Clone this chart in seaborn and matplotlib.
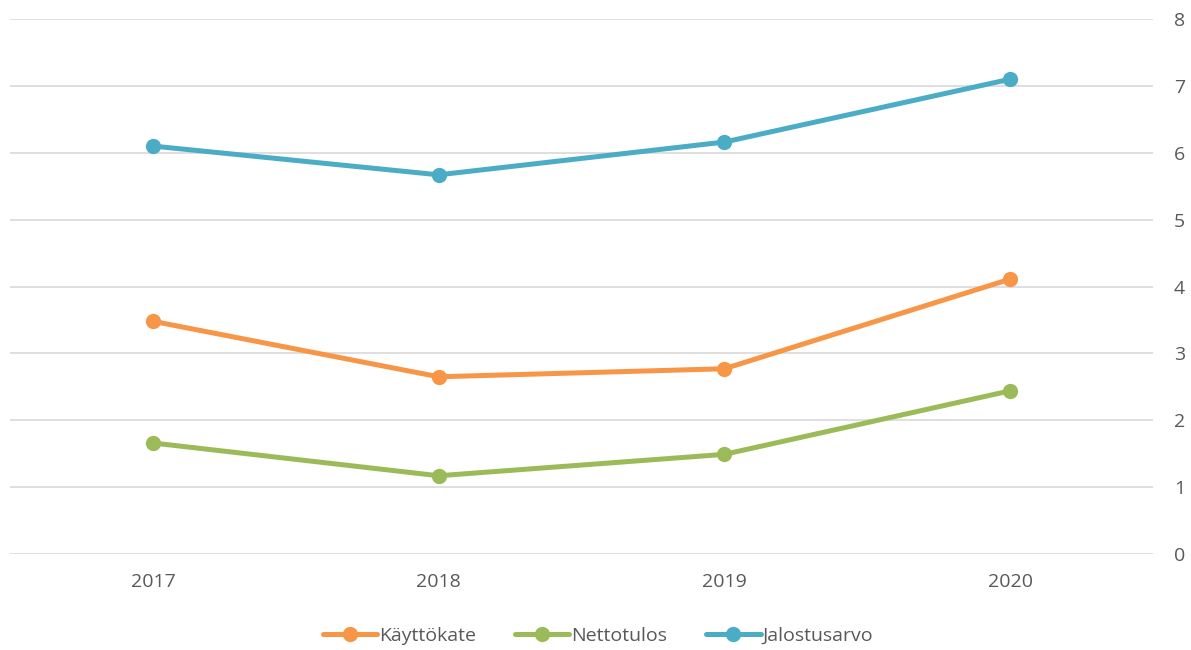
import pandas as pd
import matplotlib
matplotlib.use("Agg")
import matplotlib.pyplot as plt
import seaborn as sns

years = ["2017", "2018", "2019", "2020"]
kayttokate = [3.48, 2.65, 2.77, 4.11]
nettotulos = [1.66, 1.17, 1.49, 2.44]
jalostusarvo = [6.10, 5.67, 6.16, 7.10]

series_names = ["Käyttökate", "Nettotulos", "Jalostusarvo"]
colors = ["#F79646", "#9BBB59", "#4BACC6"]

df = pd.DataFrame({
    "Vuosi": years * 3,
    "Arvo": kayttokate + nettotulos + jalostusarvo,
    "Sarja": [s for s in series_names for _ in years],
})

sns.set_style("white")
plt.rcParams["font.family"] = ["Open Sans", "DejaVu Sans"]
text_color = "#595959"

fig = plt.figure(figsize=(11.91, 6.5), dpi=100)
ax = fig.add_axes([10 / 1191, 1 - 554 / 650, 1143 / 1191, 535 / 650])

sns.lineplot(
    data=df, x="Vuosi", y="Arvo", hue="Sarja",
    hue_order=series_names, palette=colors,
    marker="o", markersize=11, markeredgewidth=0,
    linewidth=3.6, ax=ax, legend=False,
)

ax.set_xlim(-0.5, 3.5)
ax.set_ylim(0, 8)
ax.set_yticks(range(0, 9))
ax.yaxis.tick_right()
ax.grid(axis="y", color="#D9D9D9", linewidth=1.2)
ax.set_axisbelow(True)
for side in ["left", "right", "top", "bottom"]:
    ax.spines[side].set_visible(False)
ax.tick_params(axis="both", length=0, labelsize=14, labelcolor=text_color)
ax.tick_params(axis="y", pad=15)
ax.tick_params(axis="x", pad=14)
ax.set_xlabel("")
ax.set_ylabel("")

handles = [
    plt.Line2D([], [], color=c, linewidth=3.6, marker="o", markersize=11, markeredgewidth=0)
    for c in colors
]
fig.legend(
    handles, series_names, loc="center", bbox_to_anchor=(598 / 1191, 1 - 636 / 650),
    ncol=3, frameon=False, fontsize=14, labelcolor=text_color,
    handlelength=2.8, handletextpad=0.1, columnspacing=2.0,
)

fig.savefig("out.png", dpi=100)
